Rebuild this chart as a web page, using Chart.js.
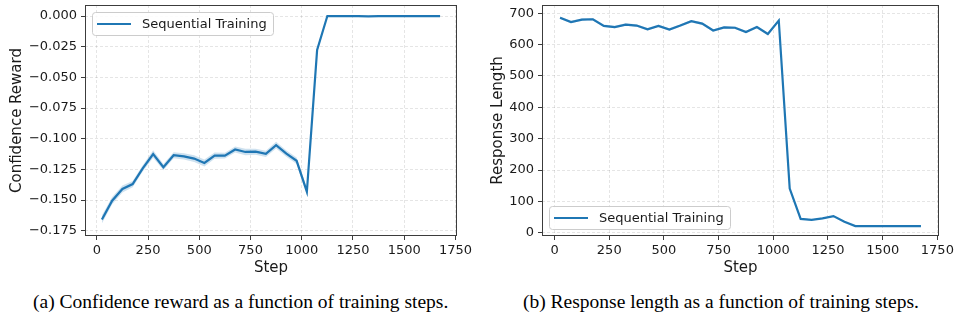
<!DOCTYPE html>
<html>
<head>
<meta charset="utf-8">
<script src="https://cdn.jsdelivr.net/npm/chart.js@4/dist/chart.umd.min.js"></script>
<style>
  html, body { margin: 0; padding: 0; background: #fff; }
  #wrap { position: relative; width: 954px; height: 320px; overflow: hidden; }
  canvas { position: absolute; top: 0; }
  #c1 { left: 0; }
  #c2 { left: 477px; }
  .cap { position: absolute; top: 291px; line-height: 22px; font-family: "Liberation Serif", "Times New Roman", serif; font-size: 19.5px; color: #000; white-space: nowrap; }
  #capA { left: 33px; }
  #capB { left: 523px; }
</style>
</head>
<body>
<div id="wrap">
  <canvas id="c1" width="477" height="280"></canvas>
  <canvas id="c2" width="477" height="280"></canvas>
  <div class="cap" id="capA">(a) Confidence reward as a function of training steps.</div>
  <div class="cap" id="capB">(b) Response length as a function of training steps.</div>
</div>
<script>
// ---- data ----
const steps = [25, 75, 125, 175, 225, 275, 325, 375, 425, 475, 525, 575, 625, 675, 725, 775, 825, 875, 925, 975, 1025, 1075, 1125, 1175, 1225, 1275, 1325, 1375, 1425, 1475, 1525, 1575, 1625, 1675];
const confidenceReward = [-0.1658, -0.1505, -0.1410, -0.1370, -0.1240, -0.1125, -0.1232, -0.1135, -0.1144, -0.1162, -0.1198, -0.1138, -0.1138, -0.1088, -0.1108, -0.1106, -0.1124, -0.1052, -0.1122, -0.1180, -0.1432, -0.0277, 0.0000, 0.0000, 0.0000, 0.0000, -0.0002, 0.0000, 0.0000, 0.0000, 0.0000, 0.0000, 0.0000, 0.0000];
const confidenceBand = [0.0032, 0.0030, 0.0028, 0.0026, 0.0026, 0.0030, 0.0026, 0.0024, 0.0026, 0.0028, 0.0028, 0.0026, 0.0024, 0.0024, 0.0026, 0.0024, 0.0026, 0.0028, 0.0026, 0.0026, 0.0030, 0.0020, 0.0003, 0.0002, 0.0002, 0.0002, 0.0002, 0.0002, 0.0002, 0.0002, 0.0002, 0.0002, 0.0002, 0.0002];
const responseLength = [686, 672, 680, 681, 660, 656, 664, 661, 649, 660, 648, 661, 675, 667, 645, 655, 654, 640, 656, 634, 677, 141, 44, 41, 46, 53, 35, 21, 21, 21, 21, 21, 21, 21];
const responseBand = [4, 4, 4, 4, 4, 4, 4, 4, 4, 4, 4, 4, 4, 4, 4, 4, 4, 4, 4, 4, 4, 3, 2, 2, 2, 2, 2, 1, 1, 1, 1, 1, 1, 1];
const seriesName = "Sequential Training";
const xTicks = [0, 250, 500, 750, 1000, 1250, 1500, 1750];
const yTicksA = [0, -0.025, -0.05, -0.075, -0.1, -0.125, -0.15, -0.175];
const yTicksB = [0, 100, 200, 300, 400, 500, 600, 700];

const BLUE = '#1f77b4';
const BAND = 'rgba(31,119,180,0.22)';
const FONT = '"DejaVu Sans", Verdana, sans-serif';
const TXT = '#1a1a1a';

function pts(vals, off, sign) {
  return steps.map((s, i) => ({ x: s, y: vals[i] + (off ? sign * off[i] : 0) }));
}

const framePlugin = {
  id: 'frame',
  afterDatasetsDraw(chart) {
    const a = chart.chartArea, ctx = chart.ctx;
    ctx.save();
    ctx.strokeStyle = '#3c3c3c';
    ctx.lineWidth = 1;
    ctx.strokeRect(Math.round(a.left) + 0.5, Math.round(a.top) + 0.5, Math.round(a.right - a.left) - 1, Math.round(a.bottom - a.top) - 1);
    ctx.restore();
  }
};

function legendPlugin(where) {
  return {
    id: 'innerLegend',
    afterDraw(chart) {
      const a = chart.chartArea, ctx = chart.ctx;
      ctx.save();
      ctx.font = '13px ' + FONT;
      const tw = ctx.measureText(seriesName).width;
      const w = Math.round(tw + 56), h = 23;
      const x = Math.round(a.left) + 7;
      const y = where === 'top' ? Math.round(a.top) + 7 : Math.round(a.bottom) - 7 - h;
      ctx.fillStyle = 'rgba(255,255,255,0.85)';
      ctx.strokeStyle = '#cccccc';
      ctx.lineWidth = 1;
      ctx.beginPath();
      ctx.roundRect(x + 0.5, y + 0.5, w, h, 3);
      ctx.fill();
      ctx.stroke();
      ctx.strokeStyle = BLUE;
      ctx.lineWidth = 2;
      ctx.beginPath();
      ctx.moveTo(x + 5, y + h / 2 + 0.5);
      ctx.lineTo(x + 39, y + h / 2 + 0.5);
      ctx.stroke();
      ctx.fillStyle = TXT;
      ctx.textBaseline = 'middle';
      ctx.fillText(seriesName, x + 50, y + h / 2 + 1);
      ctx.restore();
    }
  };
}

function makeChart(id, vals, band, yMin, yMax, yTicks, yTitle, fmt, yWidth, padRight, titlePad, legendWhere) {
  return new Chart(document.getElementById(id), {
    type: 'line',
    data: {
      datasets: [
        { data: pts(vals, band, 1), borderWidth: 0, pointRadius: 0, fill: false, borderColor: 'rgba(0,0,0,0)' },
        { data: pts(vals, band, -1), borderWidth: 0, pointRadius: 0, fill: '-1', backgroundColor: BAND, borderColor: 'rgba(0,0,0,0)' },
        { label: seriesName, data: pts(vals), borderColor: BLUE, borderWidth: 2.2, pointRadius: 0, fill: false, tension: 0 }
      ]
    },
    options: {
      responsive: false,
      animation: false,
      events: [],
      layout: { padding: { top: 5, right: padRight, left: 0, bottom: 0 } },
      plugins: { legend: { display: false }, tooltip: { enabled: false } },
      scales: {
        x: {
          type: 'linear', min: -57.5, max: 1757.5,
          afterBuildTicks: s => { s.ticks = xTicks.map(v => ({ value: v })); },
          afterFit: s => { s.height = 44; s.paddingLeft = 0; s.paddingRight = 0; },
          ticks: { font: { family: FONT, size: 13 }, color: TXT, padding: 3, maxRotation: 0, callback: v => String(v) },
          grid: { color: 'rgba(0,0,0,0.13)', lineWidth: 0.8, tickColor: '#3c3c3c', tickLength: 4, tickWidth: 1, tickBorderDash: [] },
          border: { display: false, dash: [3, 2] },
          title: { display: true, text: 'Step', font: { family: FONT, size: 15 }, color: TXT, padding: { top: 0, bottom: 3 } }
        },
        y: {
          type: 'linear', min: yMin, max: yMax,
          afterBuildTicks: s => { s.ticks = yTicks.map(v => ({ value: v })); },
          afterFit: s => { s.width = yWidth; s.paddingTop = 0; s.paddingBottom = 0; },
          ticks: { font: { family: FONT, size: 13 }, color: TXT, padding: 4, callback: fmt },
          grid: { color: 'rgba(0,0,0,0.13)', lineWidth: 0.8, tickColor: '#3c3c3c', tickLength: 4, tickWidth: 1, tickBorderDash: [] },
          border: { display: false, dash: [3, 2] },
          title: { display: true, text: yTitle, font: { family: FONT, size: 15 }, color: TXT, padding: { top: titlePad, bottom: 4 } }
        }
      }
    },
    plugins: [framePlugin, legendPlugin(legendWhere)]
  });
}

const fmtA = v => {
  const s = Math.abs(v).toFixed(3);
  return (v < -1e-9 ? '\u2212' : '') + s;
};
const fmtB = v => String(v);

makeChart('c1', confidenceReward, confidenceBand, -0.1793, 0.009, yTicksA, 'Confidence Reward', fmtA, 85, 20, 8, 'top');
makeChart('c2', responseLength, responseBand, -10.5, 726.5, yTicksB, 'Response Length', fmtB, 65, 15, 12, 'bottom');
</script>
</body>
</html>
